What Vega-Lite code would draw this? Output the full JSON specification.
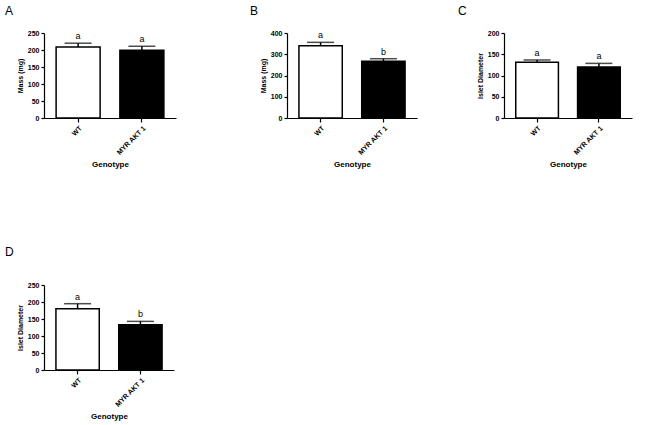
{
  "$schema": "https://vega.github.io/schema/vega-lite/v6.json",
  "background": "white",
  "padding": 5,
  "spacing": 77,
  "data": {"values": [
    {"panel": "A", "genotype": "WT", "mean": 209, "upper": 220, "letter": "a"},
    {"panel": "A", "genotype": "MYR AKT 1", "mean": 199, "upper": 211, "letter": "a"},
    {"panel": "B", "genotype": "WT", "mean": 340, "upper": 356, "letter": "a"},
    {"panel": "B", "genotype": "MYR AKT 1", "mean": 267, "upper": 279, "letter": "b"},
    {"panel": "C", "genotype": "WT", "mean": 131, "upper": 136.5, "letter": "a"},
    {"panel": "C", "genotype": "MYR AKT 1", "mean": 120, "upper": 128.5, "letter": "a"},
    {"panel": "D", "genotype": "WT", "mean": 180, "upper": 195, "letter": "a"},
    {"panel": "D", "genotype": "MYR AKT 1", "mean": 133, "upper": 143, "letter": "b"}
  ]},
  "config": {
    "font": "Liberation Sans",
    "view": {"stroke": null},
    "axis": {
      "grid": false,
      "domainColor": "black",
      "tickColor": "black",
      "labelColor": "black",
      "titleColor": "black",
      "labelFont": "Liberation Sans",
      "titleFont": "Liberation Sans",
      "labelFontWeight": "bold",
      "titleFontWeight": "bold",
      "labelFontSize": 7,
      "titleFontSize": 7,
      "labelOverlap": false,
      "labelFlush": false,
      "tickSize": 3,
      "domainWidth": 1.2,
      "tickWidth": 1.2
    },
    "title": {"font": "Liberation Sans", "fontWeight": "normal", "fontSize": 12, "anchor": "start", "color": "black", "frame": "group"}
  },
  "vconcat": [
    {
      "spacing": 74,
      "hconcat": [
        {
          "width": 132, "height": 85,
          "title": {"text": "A", "dx": -39, "offset": 11},
          "transform": [{"filter": "datum.panel === 'A'"}],
          "encoding": {
            "x": {"field": "genotype", "type": "nominal", "sort": ["WT", "MYR AKT 1"],
              "scale": {"paddingInner": 0.31, "paddingOuter": 0.19},
              "axis": {"title": "Genotype", "titleFontSize": 8, "labelAngle": -45, "labelAlign": "right", "labelBaseline": "top", "tickSize": 4, "titlePadding": 5}}
          },
          "layer": [
            {"mark": {"type": "bar", "stroke": "black", "strokeWidth": 1.5},
             "encoding": {
               "y": {"field": "mean", "type": "quantitative", "scale": {"domain": [0, 250], "nice": false},
                 "axis": {"title": "Mass (mg)", "values": [0, 50, 100, 150, 200, 250], "titlePadding": 4}},
               "fill": {"field": "genotype", "type": "nominal", "scale": {"domain": ["WT", "MYR AKT 1"], "range": ["white", "black"]}, "legend": null}}},
            {"mark": {"type": "rule", "strokeWidth": 1.5, "color": "black"},
             "encoding": {"y": {"field": "mean", "type": "quantitative", "axis": {"title": "Mass (mg)", "values": [0, 50, 100, 150, 200, 250], "titlePadding": 4}}, "y2": {"field": "upper"}}},
            {"mark": {"type": "tick", "size": 27, "thickness": 1.5, "color": "black"},
             "encoding": {"y": {"field": "upper", "type": "quantitative", "axis": {"title": "Mass (mg)", "values": [0, 50, 100, 150, 200, 250], "titlePadding": 4}}}},
            {"mark": {"type": "text", "dy": -2, "fontSize": 9, "baseline": "bottom", "color": "black"},
             "encoding": {"y": {"field": "upper", "type": "quantitative", "axis": {"title": "Mass (mg)", "values": [0, 50, 100, 150, 200, 250], "titlePadding": 4}}, "text": {"field": "letter"}}}
          ]
        },
        {
          "spacing": 41,
          "hconcat": [
            {
              "width": 130, "height": 85,
              "title": {"text": "B", "dx": -37, "offset": 11},
              "transform": [{"filter": "datum.panel === 'B'"}],
              "encoding": {
                "x": {"field": "genotype", "type": "nominal", "sort": ["WT", "MYR AKT 1"],
                  "scale": {"paddingInner": 0.31, "paddingOuter": 0.19},
                  "axis": {"title": "Genotype", "titleFontSize": 8, "labelAngle": -45, "labelAlign": "right", "labelBaseline": "top", "tickSize": 4, "titlePadding": 5}}
              },
              "layer": [
                {"mark": {"type": "bar", "stroke": "black", "strokeWidth": 1.5},
                 "encoding": {
                   "y": {"field": "mean", "type": "quantitative", "scale": {"domain": [0, 400], "nice": false},
                     "axis": {"title": "Mass (mg)", "values": [0, 100, 200, 300, 400], "titlePadding": 4}},
                   "fill": {"field": "genotype", "type": "nominal", "scale": {"domain": ["WT", "MYR AKT 1"], "range": ["white", "black"]}, "legend": null}}},
                {"mark": {"type": "rule", "strokeWidth": 1.5, "color": "black"},
                 "encoding": {"y": {"field": "mean", "type": "quantitative", "axis": {"title": "Mass (mg)", "values": [0, 100, 200, 300, 400], "titlePadding": 4}}, "y2": {"field": "upper"}}},
                {"mark": {"type": "tick", "size": 27, "thickness": 1.5, "color": "black"},
                 "encoding": {"y": {"field": "upper", "type": "quantitative", "axis": {"title": "Mass (mg)", "values": [0, 100, 200, 300, 400], "titlePadding": 4}}}},
                {"mark": {"type": "text", "dy": -2, "fontSize": 9, "baseline": "bottom", "color": "black"},
                 "encoding": {"y": {"field": "upper", "type": "quantitative", "axis": {"title": "Mass (mg)", "values": [0, 100, 200, 300, 400], "titlePadding": 4}}, "text": {"field": "letter"}}}
              ]
            },
            {
              "width": 128, "height": 85,
              "title": {"text": "C", "dx": -46, "offset": 11},
              "transform": [{"filter": "datum.panel === 'C'"}],
              "encoding": {
                "x": {"field": "genotype", "type": "nominal", "sort": ["WT", "MYR AKT 1"],
                  "scale": {"paddingInner": 0.31, "paddingOuter": 0.19},
                  "axis": {"title": "Genotype", "titleFontSize": 8, "labelAngle": -45, "labelAlign": "right", "labelBaseline": "top", "tickSize": 4, "titlePadding": 5}}
              },
              "layer": [
                {"mark": {"type": "bar", "stroke": "black", "strokeWidth": 1.5},
                 "encoding": {
                   "y": {"field": "mean", "type": "quantitative", "scale": {"domain": [0, 200], "nice": false},
                     "axis": {"title": "Islet Diameter", "values": [0, 50, 100, 150, 200], "titlePadding": 4}},
                   "fill": {"field": "genotype", "type": "nominal", "scale": {"domain": ["WT", "MYR AKT 1"], "range": ["white", "black"]}, "legend": null}}},
                {"mark": {"type": "rule", "strokeWidth": 1.5, "color": "black"},
                 "encoding": {"y": {"field": "mean", "type": "quantitative", "axis": {"title": "Islet Diameter", "values": [0, 50, 100, 150, 200], "titlePadding": 4}}, "y2": {"field": "upper"}}},
                {"mark": {"type": "tick", "size": 27, "thickness": 1.5, "color": "black"},
                 "encoding": {"y": {"field": "upper", "type": "quantitative", "axis": {"title": "Islet Diameter", "values": [0, 50, 100, 150, 200], "titlePadding": 4}}}},
                {"mark": {"type": "text", "dy": -2, "fontSize": 9, "baseline": "bottom", "color": "black"},
                 "encoding": {"y": {"field": "upper", "type": "quantitative", "axis": {"title": "Islet Diameter", "values": [0, 50, 100, 150, 200], "titlePadding": 4}}, "text": {"field": "letter"}}}
              ]
            }
          ]
        }
      ]
    },
    {
      "width": 130, "height": 85,
      "title": {"text": "D", "dx": -39, "offset": 22},
      "transform": [{"filter": "datum.panel === 'D'"}],
      "encoding": {
        "x": {"field": "genotype", "type": "nominal", "sort": ["WT", "MYR AKT 1"],
          "scale": {"paddingInner": 0.31, "paddingOuter": 0.19},
          "axis": {"title": "Genotype", "titleFontSize": 8, "labelAngle": -45, "labelAlign": "right", "labelBaseline": "top", "tickSize": 4, "titlePadding": 5}}
      },
      "layer": [
        {"mark": {"type": "bar", "stroke": "black", "strokeWidth": 1.5},
         "encoding": {
           "y": {"field": "mean", "type": "quantitative", "scale": {"domain": [0, 250], "nice": false},
             "axis": {"title": "Islet Diameter", "values": [0, 50, 100, 150, 200, 250], "titlePadding": 4}},
           "fill": {"field": "genotype", "type": "nominal", "scale": {"domain": ["WT", "MYR AKT 1"], "range": ["white", "black"]}, "legend": null}}},
        {"mark": {"type": "rule", "strokeWidth": 1.5, "color": "black"},
         "encoding": {"y": {"field": "mean", "type": "quantitative", "axis": {"title": "Islet Diameter", "values": [0, 50, 100, 150, 200, 250], "titlePadding": 4}}, "y2": {"field": "upper"}}},
        {"mark": {"type": "tick", "size": 27, "thickness": 1.5, "color": "black"},
         "encoding": {"y": {"field": "upper", "type": "quantitative", "axis": {"title": "Islet Diameter", "values": [0, 50, 100, 150, 200, 250], "titlePadding": 4}}}},
        {"mark": {"type": "text", "dy": -2, "fontSize": 9, "baseline": "bottom", "color": "black"},
         "encoding": {"y": {"field": "upper", "type": "quantitative", "axis": {"title": "Islet Diameter", "values": [0, 50, 100, 150, 200, 250], "titlePadding": 4}}, "text": {"field": "letter"}}}
      ]
    }
  ]
}
